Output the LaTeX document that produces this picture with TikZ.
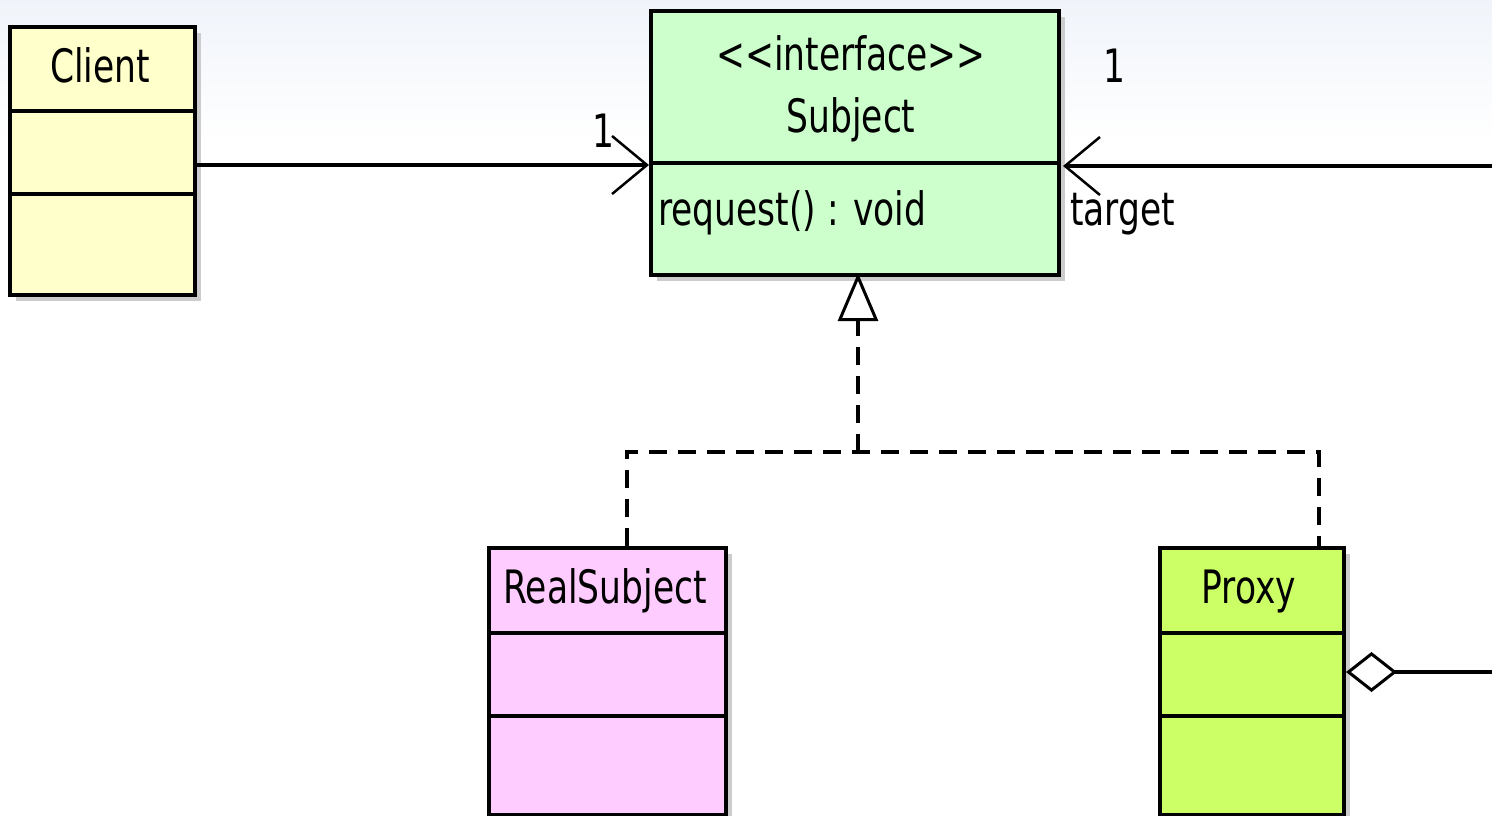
\documentclass[tikz,border=0pt]{standalone}
\usepackage{fontspec}
\setmainfont{DejaVu Sans}[FakeStretch=0.75]
\usetikzlibrary{arrows.meta,shadows}

\definecolor{bgtop}{RGB}{240,244,250}
\definecolor{clientfill}{RGB}{255,255,204}
\definecolor{subjectfill}{RGB}{204,255,204}
\definecolor{realfill}{RGB}{255,204,255}
\definecolor{proxyfill}{RGB}{204,255,102}

\tikzset{
  classbox/.style={draw=black, line width=4pt, inner sep=0pt, anchor=north west,
    drop shadow={shadow xshift=6pt, shadow yshift=-6pt, fill=black!20, opacity=1}},
  divider/.style={line width=4pt},
  label/.style={inner sep=0pt, font=\fontsize{46pt}{52pt}\selectfont},
  assoc/.style={line width=3.5pt},
  realize/.style={line width=3.5pt, dash pattern=on 18pt off 11pt},
  barb/.tip={Straight Barb[length=35pt, width=58pt, line width=2.5pt]},
  hollowtri/.tip={Triangle[open, length=48pt, width=40pt, line width=3pt, fill=white]},
  hollowdiamond/.tip={Diamond[open, length=51pt, width=40pt, line width=3pt, fill=white]},
}

\begin{document}
\begin{tikzpicture}[x=1pt, y=-1pt]
  % canvas and soft header gradient
  \useasboundingbox (0,0) rectangle (1492,815);
  \fill[white] (0,0) rectangle (1492,815);
  \fill[top color=bgtop, bottom color=white] (0,0) rectangle (1492,140);

  % class boxes
  \node[classbox, fill=clientfill, minimum width=185pt, minimum height=268pt] (client) at (8,25) {};
  \node[classbox, fill=subjectfill, minimum width=408pt, minimum height=264pt] (subject) at (649,9) {};
  \node[classbox, fill=realfill, minimum width=237pt, minimum height=267pt] (real) at (487,546) {};
  \node[classbox, fill=proxyfill, minimum width=184pt, minimum height=267pt] (proxy) at (1158,546) {};

  % compartment lines
  \draw[divider] (client.north west) ++(0,86) -- ++(185,0);
  \draw[divider] (client.north west) ++(0,169) -- ++(185,0);
  \draw[divider] (subject.north west) ++(0,154) -- ++(408,0);
  \draw[divider] (real.north west) ++(0,87) -- ++(237,0);
  \draw[divider] (real.north west) ++(0,170) -- ++(237,0);
  \draw[divider] (proxy.north west) ++(0,87) -- ++(184,0);
  \draw[divider] (proxy.north west) ++(0,170) -- ++(184,0);

  % class texts
  \node[label, anchor=base] (clientname) at (100,82) {Client};
  \node[label, anchor=base] (stereo) at (851,70) {<{}<interface>{}>};
  \node[label, anchor=base] (subjectname) at (851,132) {Subject};
  \node[label, anchor=base west] (op) at (658,225) {request() : void};
  \node[label, anchor=base] (realname) at (605,603) {RealSubject};
  \node[label, anchor=base] (proxyname) at (1249,603) {Proxy};

  % association levels and free ends
  \coordinate (lvlA) at (0,165);
  \coordinate (lvlB) at (0,166);
  \coordinate (rightend) at (1492,166);
  \coordinate (lvlD) at (0,672);
  \coordinate (diamondend) at (1492,672);

  % Client -> Subject
  \draw[assoc, -barb] (client.east |- lvlA) -- (subject.west |- lvlA);
  \node[label, anchor=base] (multA) at (603,147) {1};

  % Proxy target -> Subject
  \draw[assoc, barb-] ([xshift=2pt]subject.east |- lvlB) -- (rightend);
  \node[label, anchor=base] (multB) at (1114,82) {1};
  \node[label, anchor=base west] (role) at (1070,225) {target};

  % Proxy aggregation
  \draw[assoc, hollowdiamond-] (proxy.east |- lvlD) -- (diamondend);

  % realization
  \coordinate (busx) at (858,0);
  \coordinate (bus) at (858,452);
  \coordinate (realx) at (627,0);
  \coordinate (proxyx) at (1319,0);
  \draw[realize] (real.north -| realx) |- (bus) -| (proxy.north -| proxyx);
  \draw[realize, -hollowtri] (bus) -- ([yshift=4pt]subject.south -| busx);
\end{tikzpicture}
\end{document}
